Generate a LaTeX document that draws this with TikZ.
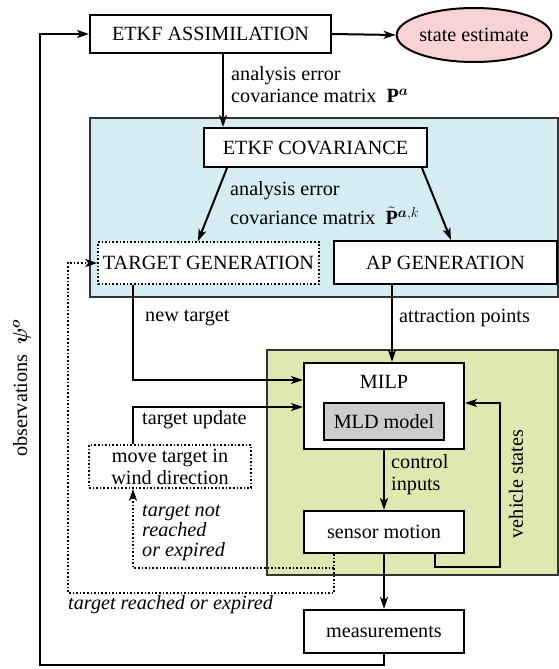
\documentclass[tikz,border=0pt]{standalone}
\usepackage{fontspec}
\setmainfont{Liberation Serif}
\newfontfamily\reffont{Liberation Serif}
\usepackage{amsmath}
\usepackage{bm}
\usetikzlibrary{arrows.meta,shapes.geometric,calc}
\definecolor{bluefill}{HTML}{D6ECF3}
\definecolor{greenfill}{HTML}{DEE8B0}
\definecolor{pinkfill}{HTML}{F9D3D3}
\definecolor{grayfill}{HTML}{CCCCCC}
\definecolor{regionline}{HTML}{333333}
\tikzset{
  every node/.style={font=\reffont\fontsize{20.2}{22}\selectfont, inner sep=0pt},
  boxnode/.style={draw, line width=2pt, fill=white, minimum width=#1, align=center},
  boxnode/.default=160pt,
  dotbox/.style={draw, dotted, line width=1.6pt, fill=white, align=center},
  conn/.style={line width=2pt, -{Stealth[length=12pt,width=8pt,inset=3pt]}},
  dotconn/.style={line width=1.6pt, dotted, -{Stealth[length=12pt,width=8pt,inset=3pt]}},
  region/.style={draw=regionline, line width=1.2pt},
  lbl/.style={anchor=west, align=left},
}
\begin{document}
\begin{tikzpicture}[x=1pt,y=-1pt]
\useasboundingbox (0,0) rectangle (559,669);
% regions
\draw[region, fill=bluefill] (90,118) rectangle (558,297);
\draw[region, fill=greenfill] (267,350) rectangle (558,575);
% nodes
\node[boxnode=241pt, minimum height=38pt] (assim) at (210.5,34) {ETKF ASSIMILATION};
\node[draw, ellipse, line width=2pt, fill=pinkfill, minimum width=144pt, minimum height=54pt] (est) at (474,35) {state estimate};
\node[boxnode=223pt, minimum height=39pt] (cov) at (315.5,147.5) {ETKF COVARIANCE};
\node[dotbox, minimum width=221pt, minimum height=42pt] (tgen) at (208.5,263) {TARGET GENERATION};
\node[boxnode=223pt, minimum height=43pt] (apgen) at (445.5,262.5) {AP GENERATION};
\node[boxnode=160pt, minimum height=86pt] (milp) at (384,406) {};
\node (milptxt) at (384,382) {MILP};
\node[draw, line width=2pt, fill=grayfill, minimum width=120pt, minimum height=37pt] (mld) at (384,421.5) {MLD model};
\node[dotbox, minimum width=162pt, minimum height=43pt] (mtw) at (170,466.5) {move target in\\wind direction};
\node[boxnode=160pt, minimum height=42pt] (sensor) at (384,532) {sensor motion};
\node[boxnode=160pt, minimum height=43pt] (meas) at (384,631.5) {measurements};
% helper coordinates
\coordinate (lb) at (40,665);
\coordinate (ob) at (68,593);
\coordinate (vs) at (500,567);
% connectors
\draw[conn] (assim.east) -- (est.west);
\draw[conn] ([xshift=12.5pt]assim.south) -- ([xshift=-92.5pt]cov.north);
\draw[conn] ([xshift=-88.5pt]cov.south) -- ([xshift=-10.5pt]tgen.north);
\draw[conn] ([xshift=106.5pt]cov.south) -- ([xshift=5.5pt]apgen.north);
\draw[conn] ([xshift=-75.5pt]tgen.south) |- ([yshift=26pt]milp.west);
\draw[conn] ([xshift=-37pt]mtw.north) |- ([yshift=-1pt]milp.west);
\draw[conn] ([xshift=-53.5pt]apgen.south) -- ([xshift=-53.5pt]apgen.south |- milp.north);
\draw[conn] (milp.south) -- (sensor.north);
\draw[conn] ([xshift=51pt]sensor.south) |- (vs) |- ([yshift=3pt]milp.east);
\draw[conn] (sensor.south) -- (meas.north);
\draw[conn] (meas.south) |- (lb) |- (assim.west);
\draw[dotconn] ([xshift=-50pt]sensor.south) |- (ob) |- (tgen.west);
\draw[dotconn] ([xshift=-50pt,yshift=-14pt]sensor.south) -| ([xshift=-37pt]mtw.south);
% labels
\node[lbl] (l1) at (231,85) {analysis error\\covariance matrix~~$\mathbf{P}^{\bm{a}}$};
\node[lbl] (l2) at (230,203) {analysis error\\[6pt]covariance matrix~~$\tilde{\mathbf{P}}^{\bm{a},k}$};
\node[lbl] (l3) at (145,318) {new target};
\node[lbl] (l4) at (399,318) {attraction points};
\node[lbl] (l5) at (142,420) {target update};
\node[lbl] (l6) at (391,475) {control\\inputs};
\node[lbl, font=\reffont\fontsize{20.2}{20}\selectfont\itshape] (l7) at (142,533) {target not\\reached\\or expired};
\node[lbl, font=\reffont\fontsize{20.2}{22}\selectfont\itshape] (l8) at (68,605) {target reached or expired};
\node[rotate=90] (l9) at (516,484) {vehicle states};
\node[rotate=90] (l10) at (22,388) {observations~~$\bm{\psi}^{\bm{o}}$};
\end{tikzpicture}
\end{document}
